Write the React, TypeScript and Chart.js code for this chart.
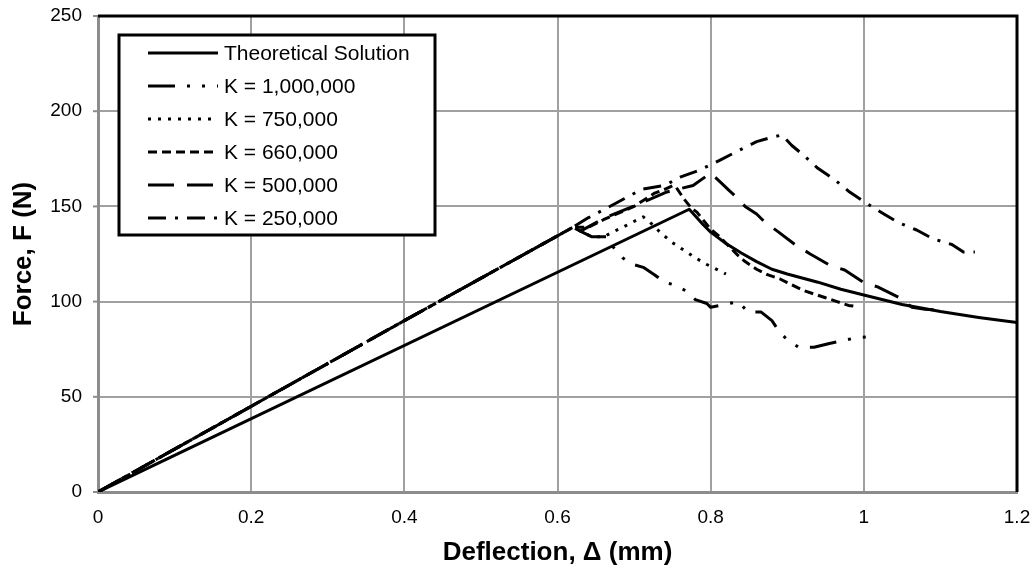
import React, { useEffect, useRef } from "react";
import { Chart, registerables } from "chart.js";

Chart.register(...registerables);

const xTicks = [0, 0.2, 0.4, 0.6, 0.8, 1, 1.2];
const yTicks = [0, 50, 100, 150, 200, 250];

const seriesLabels = [
  "Theoretical Solution",
  "K = 1,000,000",
  "K = 750,000",
  "K = 660,000",
  "K = 500,000",
  "K = 250,000",
];

const theoX = [0, 0.772, 0.78, 0.79, 0.8, 0.82, 0.84, 0.86, 0.88, 0.9, 0.94, 0.97, 1.0, 1.05, 1.1, 1.15, 1.2];
const theoY = [0, 148.5, 145, 140.5, 136.5, 130.5, 125.5, 121, 117, 114.5, 110.2, 106.5, 103.5, 98.5, 94.8, 91.7, 89];

const k1000X = [0, 0.2, 0.4, 0.62, 0.635, 0.645, 0.665, 0.672, 0.685, 0.695, 0.712, 0.727, 0.74, 0.751, 0.768, 0.78, 0.795, 0.8, 0.836, 0.849, 0.866, 0.88, 0.89, 0.9, 0.915, 0.935, 0.955, 0.99, 1.008];
const k1000Y = [0, 45, 90, 139, 136, 134, 134, 129, 123, 120, 118, 114, 110, 109, 105.6, 101, 99, 97, 100, 94.5, 94.5, 90, 84, 80, 76, 76, 78, 81, 81.5];

const k750X = [0, 0.2, 0.4, 0.62, 0.63, 0.645, 0.66, 0.672, 0.685, 0.697, 0.712, 0.72, 0.735, 0.75, 0.765, 0.78, 0.795, 0.81, 0.82];
const k750Y = [0, 45, 90, 139, 137, 134, 134, 136.5, 139, 141.5, 144.5, 142, 136, 131, 127, 123, 119.5, 116.5, 114.5];

const k660X = [0, 0.2, 0.4, 0.62, 0.64, 0.66, 0.7, 0.727, 0.74, 0.751, 0.755, 0.765, 0.775, 0.782, 0.8, 0.812, 0.824, 0.835, 0.845, 0.86, 0.875, 0.89, 0.9, 0.92, 0.935, 0.95, 0.965, 0.98, 0.99];
const k660Y = [0, 45, 90, 139, 139, 143, 150, 157, 159, 161, 160, 154, 149, 147, 138, 134, 129, 124.5, 121, 117, 114, 112, 110, 106, 104, 102, 100, 98, 97.5];

const k500X = [0, 0.2, 0.4, 0.62, 0.63, 0.662, 0.703, 0.743, 0.777, 0.8, 0.812, 0.825, 0.836, 0.845, 0.86, 0.87, 0.887, 0.91, 0.93, 0.956, 0.975, 1.0, 1.018, 1.047, 1.063, 1.08, 1.097];
const k500Y = [0, 45, 90, 139, 137, 144, 150.7, 157.6, 161, 167.5, 163, 158, 154, 150, 146, 142, 137, 130, 125, 119, 116.6, 110, 107.7, 102, 97, 96, 95.6];

const k250X = [0, 0.2, 0.4, 0.62, 0.64, 0.662, 0.687, 0.71, 0.74, 0.761, 0.785, 0.811, 0.835, 0.86, 0.877, 0.893, 0.906, 0.921, 0.94, 0.962, 0.98, 1.0, 1.024, 1.045, 1.069, 1.09, 1.115, 1.13, 1.145];
const k250Y = [0, 45, 90, 139, 144, 148.6, 154, 159, 161, 165.5, 169, 174, 179, 184, 186, 187.5, 182, 177, 170, 164, 158, 152.5, 146.5, 141.5, 137.6, 133, 130, 126, 126];

const seriesX = [theoX, k1000X, k750X, k660X, k500X, k250X];
const seriesY = [theoY, k1000Y, k750Y, k660Y, k500Y, k250Y];
const seriesDash: number[][] = [[], [27, 12, 3, 12, 3, 12], [3, 7], [9, 5], [26, 13], [18, 9, 3, 9]];

const FONT = "'Liberation Sans', Arial, sans-serif";

const legendPlugin = {
  id: "boxLegend",
  afterDraw(chart: any) {
    const ctx = chart.ctx;
    const a = chart.chartArea;
    const bx = a.left + 21;
    const by = a.top + 19;
    const bw = 316;
    const bh = 200;
    ctx.save();
    ctx.fillStyle = "#fff";
    ctx.fillRect(bx, by, bw, bh);
    ctx.setLineDash([]);
    ctx.lineWidth = 3;
    ctx.strokeStyle = "#000";
    ctx.strokeRect(bx, by, bw, bh);
    chart.data.datasets.forEach((ds: any, i: number) => {
      const y = by + 18 + i * 33;
      ctx.beginPath();
      ctx.setLineDash(ds.borderDash || []);
      ctx.lineWidth = 3;
      ctx.lineCap = "butt";
      ctx.moveTo(bx + 29, y);
      ctx.lineTo(bx + 99, y);
      ctx.stroke();
      ctx.setLineDash([]);
      ctx.fillStyle = "#000";
      ctx.font = `21px ${FONT}`;
      ctx.textBaseline = "middle";
      ctx.textAlign = "left";
      ctx.fillText(ds.label, bx + 105, y + 1);
    });
    ctx.restore();
  },
};

const borderPlugin = {
  id: "plotBorder",
  afterDatasetsDraw(chart: any) {
    const ctx = chart.ctx;
    const a = chart.chartArea;
    const ys = chart.scales.y;
    ctx.save();
    ctx.setLineDash([]);
    // small outside tick marks on the value axis
    ctx.strokeStyle = "#8c8c8c";
    ctx.lineWidth = 2;
    yTicks.forEach((v) => {
      const py = ys.getPixelForValue(v);
      ctx.beginPath();
      ctx.moveTo(a.left - 5, py);
      ctx.lineTo(a.left, py);
      ctx.stroke();
    });
    ctx.strokeStyle = "#000";
    ctx.lineWidth = 3;
    ctx.beginPath();
    ctx.moveTo(a.left, a.top);
    ctx.lineTo(a.right, a.top);
    ctx.lineTo(a.right, a.bottom);
    ctx.stroke();
    ctx.restore();
  },
};

export default function App() {
  const ref = useRef<HTMLCanvasElement>(null);
  useEffect(() => {
    if (!ref.current) return;
    const datasets = seriesLabels.map((label, i) => ({
      label,
      data: seriesX[i].map((x, j) => ({ x, y: seriesY[i][j] })),
      borderColor: "#000",
      backgroundColor: "#000",
      borderWidth: 3,
      borderDash: seriesDash[i],
      borderCapStyle: "butt",
      borderJoinStyle: "round",
      pointRadius: 0,
      fill: false,
      tension: 0,
    }));
    const chart = new Chart(ref.current, {
      type: "line",
      data: { datasets } as any,
      plugins: [borderPlugin, legendPlugin],
      options: {
        animation: false,
        responsive: true,
        maintainAspectRatio: false,
        layout: { padding: { left: 0, top: 16, right: 15, bottom: 0 } },
        plugins: { legend: { display: false }, tooltip: { enabled: false } },
        scales: {
          x: {
            type: "linear",
            min: 0,
            max: 1.2,
            afterBuildTicks: (s: any) => {
              s.ticks = xTicks.map((v) => ({ value: v }));
            },
            afterFit: (s: any) => {
              s.height = 76;
            },
            ticks: {
              color: "#000",
              font: { family: FONT, size: 19 },
              padding: 0,
              maxRotation: 0,
              callback: (v: any) => String(Math.round(Number(v) * 10) / 10),
            },
            grid: {
              color: "#a0a0a0",
              lineWidth: 2,
              drawTicks: true,
              tickLength: 14,
              tickColor: "rgba(0,0,0,0)",
            },
            border: { color: "#8c8c8c", width: 3 },
            title: {
              display: true,
              text: "Deflection, Δ (mm)",
              color: "#000",
              font: { family: FONT, size: 26, weight: "bold" },
              padding: { top: 0, bottom: 0 },
            },
          },
          y: {
            type: "linear",
            min: 0,
            max: 250,
            afterBuildTicks: (s: any) => {
              s.ticks = yTicks.map((v) => ({ value: v }));
            },
            afterFit: (s: any) => {
              s.width = 98;
            },
            ticks: {
              color: "#000",
              font: { family: FONT, size: 19 },
              padding: 0,
            },
            grid: {
              color: "#a0a0a0",
              lineWidth: 2,
              drawTicks: true,
              tickLength: 16,
              tickColor: "rgba(0,0,0,0)",
            },
            border: { color: "#8c8c8c", width: 3 },
            title: {
              display: true,
              text: "Force, F (N)",
              color: "#000",
              font: { family: FONT, size: 26, weight: "bold" },
              padding: { top: 8, bottom: 0 },
            },
          },
        },
      } as any,
    });
    return () => chart.destroy();
  }, []);
  return (
    <div style={{ position: "absolute", left: 0, top: 0, width: 1032, height: 568, background: "#fff" }}>
      <canvas ref={ref} />
    </div>
  );
}
